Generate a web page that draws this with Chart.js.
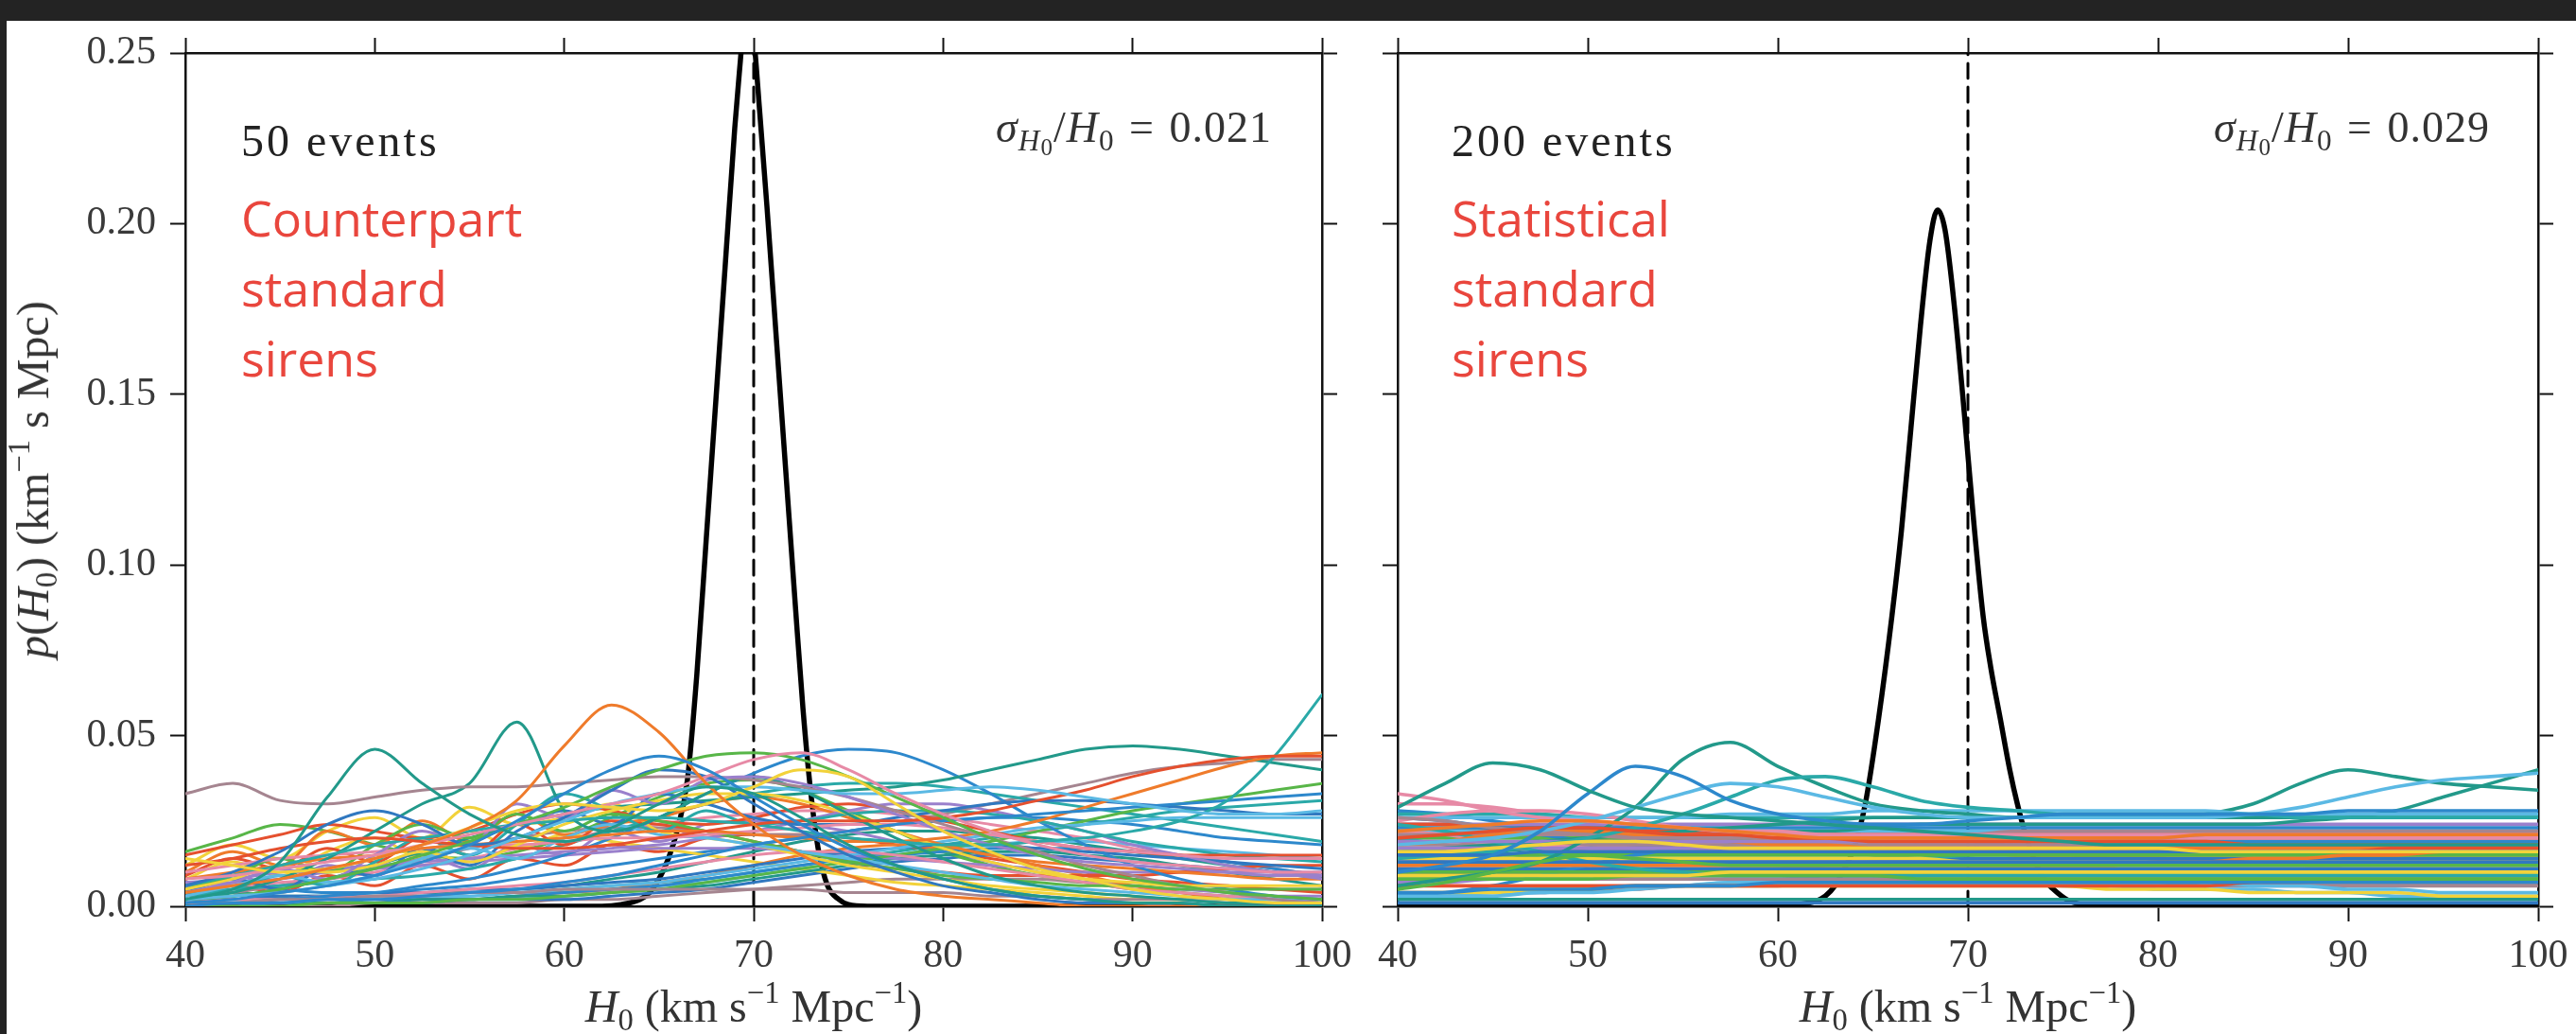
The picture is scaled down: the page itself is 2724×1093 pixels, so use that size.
<!DOCTYPE html>
<html lang="en">
<head>
<meta charset="UTF-8">
<title>H0 posteriors from standard sirens</title>
<script src="https://cdn.jsdelivr.net/npm/chart.js@4.4.1/dist/chart.umd.min.js"></script>
<style>
  body { margin: 0; width: 2724px; height: 1093px; background: #fff; position: relative; overflow: hidden; }
  canvas { position: absolute; top: 0; }
  #countChart { left: 0; }
  #statChart { left: 1440px; }
  .bar-top { position: absolute; left: 0; top: 0; width: 2724px; height: 22px; background: #232323; }
  .bar-left { position: absolute; left: 0; top: 0; width: 7px; height: 1093px; background: #232323; }
  .tx { position: absolute; white-space: nowrap; line-height: 1; color: #333; font-family: "Liberation Serif", serif; }
  .tx sub, .tx sup { line-height: 0; font-size: 68%; }
  .tx sub { vertical-align: -0.28em; }
  .tx sup { vertical-align: 0.62em; }
  .tx sub sub { font-size: 80%; vertical-align: -0.2em; }
  .axis-title { font-size: 48px; }
  .events { font-size: 48px; letter-spacing: 3px; color: #222; top: 125px; }
  .sigma { font-size: 46px; top: 112px; letter-spacing: 1px; word-spacing: 3px; }
  .red { position: absolute; font-family: "Open Sans", sans-serif; font-size: 52px; line-height: 74px; color: #e9463d; top: 193px; white-space: nowrap; }
</style>
</head>
<body>
<canvas id="countChart" width="1440" height="1093"></canvas>
<canvas id="statChart" width="1284" height="1093"></canvas>
<div class="bar-top"></div>
<div class="bar-left"></div>

<div class="tx axis-title" style="left:35px; top:507px; transform: translate(-50%, -50%) rotate(-90deg);"><i>p</i>(<i>H</i><sub>0</sub>) (km<sup>−1</sup> s Mpc)</div>
<div class="tx axis-title" style="left:797px; top:1040px; transform: translateX(-50%);"><i>H</i><sub>0</sub> (km s<sup>−1</sup> Mpc<sup>−1</sup>)</div>
<div class="tx axis-title" style="left:2081px; top:1040px; transform: translateX(-50%);"><i>H</i><sub>0</sub> (km s<sup>−1</sup> Mpc<sup>−1</sup>)</div>

<div class="tx events" style="left:255px;">50 events</div>
<div class="tx events" style="left:1535px;">200 events</div>
<div class="tx sigma" style="right:1379px;"><i>σ</i><sub><i>H</i><sub>0</sub></sub>/<i>H</i><sub>0</sub> = 0.021</div>
<div class="tx sigma" style="right:91px;"><i>σ</i><sub><i>H</i><sub>0</sub></sub>/<i>H</i><sub>0</sub> = 0.029</div>
<div class="red" style="left:255px;">Counterpart<br>standard<br>sirens</div>
<div class="red" style="left:1535px;">Statistical<br>standard<br>sirens</div>

<script>
// H0 grid (km/s/Mpc) shared by the single-event curves
const h0Grid = [40, 42.5, 45, 47.5, 50, 52.5, 55, 57.5, 60, 62.5, 65, 67.5, 70,
                72.5, 75, 77.5, 80, 82.5, 85, 87.5, 90, 92.5, 95, 97.5, 100];
const trueH0 = 70;
const xTicks = [40, 50, 60, 70, 80, 90, 100];
const yTicks = [0, 0.05, 0.10, 0.15, 0.20, 0.25];

// single-event posteriors, counterpart sirens, p(H0) in units of 1e-3
const counterpartEvents = [
  [2, 5, 13, 32, 46, 36, 27, 21, 19, 23, 30, 35, 33, 26, 18, 12, 8, 5, 3, 2, 1, 1, 0, 0, 0],
  [1, 2, 4, 6, 9, 13, 18, 25, 33, 40, 44, 40, 32, 24, 17, 12, 8, 5, 3, 2, 1, 1, 0, 0, 0],
  [4, 6, 8, 11, 14, 18, 23, 31, 47, 59, 51, 36, 24, 15, 9, 5, 3, 2, 1, 0, 0, 0, 0, 0, 0],
  [14, 12, 10, 11, 14, 18, 23, 28, 30, 29, 28, 30, 35, 40, 38, 30, 22, 16, 11, 8, 5, 3, 2, 1, 1],
  [8, 9, 11, 13, 15, 18, 21, 24, 27, 30, 33, 38, 43, 45, 40, 33, 27, 22, 18, 15, 13, 12, 11, 10, 10],
  [2, 3, 4, 6, 8, 11, 15, 20, 25, 30, 33, 35, 35, 34, 33, 33, 34, 35, 34, 32, 30, 28, 27, 27, 28],
  [2, 3, 5, 8, 11, 15, 19, 24, 29, 35, 40, 44, 45, 43, 38, 32, 26, 20, 15, 11, 8, 6, 4, 3, 2],
  [6, 10, 16, 24, 28, 24, 18, 20, 26, 34, 40, 38, 30, 22, 15, 10, 6, 4, 2, 1, 1, 0, 0, 0, 0],
  [12, 14, 17, 19, 20, 19, 18, 17, 17, 18, 20, 22, 24, 25, 25, 25, 26, 28, 31, 34, 38, 41, 43, 44, 44],
  [6, 9, 12, 15, 18, 20, 22, 24, 25, 26, 26, 25, 24, 22, 20, 19, 18, 18, 19, 20, 22, 25, 31, 44, 62],
  [4, 7, 11, 8, 15, 22, 18, 30, 26, 34, 30, 37, 38, 36, 32, 27, 22, 18, 15, 13, 12, 11, 10, 9, 9],
  [33, 36, 31, 30, 32, 34, 35, 35, 36, 37, 38, 38, 37, 35, 32, 28, 24, 20, 16, 12, 9, 6, 4, 2, 1],
  [2, 4, 8, 14, 22, 30, 36, 54, 28, 22, 26, 33, 38, 34, 27, 20, 14, 9, 6, 4, 3, 2, 1, 1, 0],
  [0, 1, 1, 2, 2, 3, 4, 5, 7, 9, 12, 15, 18, 20, 22, 24, 25, 26, 27, 28, 29, 30, 31, 32, 33],
  [8, 10, 12, 14, 15, 17, 18, 19, 20, 21, 22, 22, 21, 20, 19, 19, 20, 22, 25, 29, 33, 37, 41, 44, 45],
  [5, 8, 12, 10, 12, 16, 13, 18, 24, 28, 31, 33, 33, 31, 27, 22, 17, 13, 10, 8, 7, 6, 6, 6, 6],
  [10, 12, 14, 15, 16, 17, 18, 18, 19, 20, 20, 21, 22, 23, 24, 24, 23, 21, 19, 17, 16, 15, 14, 14, 14],
  [3, 6, 9, 7, 9, 14, 17, 14, 20, 24, 21, 20, 18, 16, 14, 12, 10, 8, 6, 5, 4, 3, 2, 2, 1],
  [5, 9, 14, 10, 18, 24, 20, 27, 22, 27, 25, 22, 19, 16, 13, 11, 9, 8, 7, 6, 6, 5, 5, 5, 5],
  [4, 8, 5, 11, 9, 17, 12, 22, 28, 24, 33, 30, 26, 24, 24, 26, 28, 30, 31, 31, 30, 29, 28, 27, 27],
  [15, 18, 21, 24, 22, 20, 22, 27, 30, 28, 25, 24, 26, 29, 30, 28, 25, 22, 19, 17, 16, 15, 15, 15, 15],
  [3, 5, 9, 6, 13, 20, 15, 24, 33, 28, 22, 28, 24, 25, 27, 28, 28, 27, 25, 22, 19, 17, 15, 14, 13],
  [7, 8, 10, 11, 12, 13, 14, 15, 16, 17, 18, 20, 22, 25, 28, 30, 30, 28, 25, 22, 18, 15, 12, 10, 8],
  [1, 1, 2, 2, 3, 3, 4, 4, 5, 5, 5, 5, 5, 5, 4, 4, 4, 3, 3, 2, 2, 2, 1, 1, 1],
  [2, 3, 5, 8, 12, 16, 20, 24, 27, 29, 30, 31, 32, 33, 34, 35, 37, 40, 43, 46, 47, 46, 44, 42, 40],
  [1, 1, 2, 3, 4, 6, 8, 11, 15, 20, 26, 33, 39, 44, 46, 45, 40, 33, 25, 18, 12, 8, 5, 3, 2],
  [10, 16, 12, 22, 18, 25, 19, 27, 21, 24, 26, 30, 32, 30, 26, 22, 18, 15, 13, 12, 11, 10, 9, 8, 8],
  [12, 18, 14, 22, 26, 20, 29, 24, 26, 30, 22, 20, 18, 15, 12, 10, 8, 6, 5, 4, 3, 2, 2, 1, 1],
  [2, 2, 2, 3, 3, 4, 5, 6, 7, 9, 11, 13, 15, 16, 16, 15, 13, 11, 9, 7, 5, 4, 3, 2, 2],
  [1, 1, 1, 2, 2, 3, 3, 4, 5, 6, 7, 9, 11, 13, 15, 17, 19, 21, 23, 24, 25, 26, 26, 26, 26],
  [0, 0, 0, 1, 1, 1, 2, 2, 3, 4, 5, 7, 9, 11, 13, 15, 17, 19, 22, 25, 28, 30, 32, 34, 36],
  [2, 2, 3, 3, 4, 4, 5, 5, 6, 7, 8, 10, 12, 14, 16, 17, 18, 18, 17, 16, 15, 14, 13, 12, 11],
  [9, 14, 11, 17, 13, 20, 15, 24, 18, 25, 24, 22, 19, 16, 13, 11, 10, 9, 9, 9, 9, 10, 11, 12, 12],
  [4, 5, 6, 7, 8, 9, 11, 14, 18, 22, 26, 30, 33, 35, 36, 36, 35, 33, 31, 29, 27, 25, 23, 21, 19],
  [6, 7, 8, 10, 11, 12, 13, 14, 15, 16, 17, 17, 17, 16, 15, 14, 13, 12, 11, 10, 10, 10, 10, 10, 10],
  [3, 4, 6, 8, 11, 14, 17, 20, 22, 23, 23, 22, 21, 21, 22, 24, 27, 30, 33, 36, 39, 41, 42, 43, 43],
  [1, 1, 1, 1, 2, 2, 2, 3, 3, 4, 5, 6, 8, 10, 12, 14, 15, 16, 16, 15, 14, 12, 10, 8, 6],
  [0, 0, 1, 1, 1, 2, 2, 3, 4, 5, 6, 8, 10, 12, 14, 15, 16, 17, 17, 17, 16, 15, 13, 11, 9],
  [1, 1, 1, 1, 1, 2, 2, 3, 4, 5, 7, 9, 12, 15, 17, 18, 17, 15, 12, 9, 6, 4, 2, 1, 1],
  [8, 13, 9, 16, 20, 14, 22, 17, 21, 19, 17, 15, 13, 11, 9, 7, 6, 5, 4, 3, 2, 2, 1, 1, 1],
  [6, 6, 7, 8, 10, 12, 14, 17, 20, 22, 24, 26, 27, 28, 28, 27, 26, 24, 22, 20, 17, 15, 13, 11, 9],
  [2, 2, 2, 2, 3, 3, 3, 4, 4, 5, 6, 7, 9, 11, 13, 15, 17, 18, 19, 19, 18, 17, 16, 15, 14],
  [16, 20, 24, 22, 18, 15, 14, 16, 20, 26, 32, 36, 37, 34, 28, 22, 16, 12, 9, 7, 5, 4, 3, 2, 2],
  [1, 1, 1, 1, 1, 1, 2, 2, 2, 3, 4, 5, 7, 9, 11, 13, 14, 15, 15, 14, 13, 12, 11, 10, 9],
  [3, 6, 4, 9, 6, 12, 8, 14, 12, 18, 16, 20, 21, 21, 20, 18, 16, 14, 12, 10, 8, 7, 6, 5, 4],
  [2, 2, 2, 3, 3, 3, 4, 4, 5, 6, 7, 8, 10, 12, 14, 16, 18, 20, 22, 24, 26, 28, 29, 30, 31],
  [5, 9, 6, 12, 9, 15, 11, 18, 15, 22, 19, 24, 25, 24, 22, 19, 16, 13, 10, 8, 6, 5, 4, 3, 3],
  [0, 0, 0, 0, 1, 1, 1, 1, 2, 2, 3, 4, 5, 6, 7, 8, 8, 8, 8, 7, 7, 6, 6, 5, 5],
  [4, 4, 3, 3, 3, 4, 4, 5, 6, 8, 10, 13, 16, 19, 21, 22, 22, 21, 20, 18, 16, 14, 12, 10, 8],
  [7, 6, 5, 4, 4, 5, 6, 8, 10, 12, 14, 16, 18, 20, 22, 24, 25, 26, 26, 25, 24, 22, 20, 19, 18]
];

// single-event posteriors, statistical sirens, p(H0) in units of 1e-3
const statisticalEvents = [
  [29, 36, 42, 40, 34, 29, 27, 26, 25, 24, 23, 22, 21, 20, 19, 18, 18, 18, 18, 18, 18, 18, 18, 18, 18],
  [10, 12, 15, 22, 33, 41, 38, 31, 27, 25, 24, 24, 25, 26, 27, 27, 27, 27, 27, 27, 28, 28, 28, 28, 28],
  [22, 23, 24, 25, 25, 24, 23, 22, 21, 20, 20, 20, 20, 20, 20, 20, 20, 21, 21, 21, 21, 21, 21, 21, 21],
  [16, 16, 17, 18, 19, 19, 18, 17, 17, 17, 17, 17, 17, 17, 17, 17, 17, 16, 16, 16, 16, 16, 16, 16, 16],
  [33, 31, 28, 26, 25, 24, 23, 22, 22, 21, 21, 21, 21, 21, 21, 21, 21, 21, 21, 21, 21, 21, 21, 21, 21],
  [18, 19, 20, 22, 25, 29, 33, 36, 35, 32, 29, 27, 26, 26, 26, 26, 26, 26, 27, 29, 32, 35, 37, 38, 39],
  [5, 7, 10, 13, 15, 14, 13, 12, 12, 12, 12, 12, 12, 12, 12, 12, 12, 12, 12, 12, 12, 12, 12, 12, 12],
  [15, 15, 15, 16, 16, 16, 16, 16, 16, 16, 16, 16, 16, 16, 16, 16, 16, 16, 16, 16, 16, 16, 16, 16, 16],
  [20, 21, 22, 23, 23, 22, 21, 21, 20, 20, 19, 19, 19, 19, 19, 19, 19, 19, 18, 18, 18, 18, 18, 18, 18],
  [14, 15, 16, 18, 20, 23, 27, 32, 37, 38, 35, 31, 29, 28, 27, 27, 27, 27, 27, 26, 26, 26, 26, 26, 26],
  [19, 19, 19, 19, 19, 19, 19, 19, 19, 19, 19, 19, 19, 19, 20, 20, 20, 21, 21, 21, 21, 21, 21, 21, 21],
  [26, 25, 23, 22, 21, 20, 20, 20, 20, 20, 21, 21, 21, 22, 22, 22, 22, 22, 22, 22, 22, 22, 22, 22, 22],
  [6, 8, 10, 13, 20, 29, 43, 48, 41, 35, 30, 28, 27, 26, 26, 26, 26, 26, 26, 26, 26, 26, 26, 26, 26],
  [4, 4, 5, 5, 5, 6, 6, 6, 7, 7, 7, 7, 7, 7, 7, 7, 7, 7, 7, 7, 7, 7, 7, 7, 7],
  [18, 19, 21, 22, 22, 21, 20, 19, 18, 18, 17, 17, 17, 17, 17, 17, 17, 17, 17, 17, 17, 18, 18, 18, 18],
  [9, 9, 9, 9, 9, 9, 9, 10, 10, 10, 10, 10, 10, 10, 10, 10, 10, 10, 10, 10, 10, 10, 10, 10, 10],
  [25, 27, 28, 28, 27, 25, 23, 22, 21, 21, 20, 20, 20, 20, 20, 20, 20, 20, 20, 20, 20, 20, 20, 20, 20],
  [26, 26, 26, 26, 26, 26, 26, 27, 27, 27, 28, 28, 28, 28, 28, 28, 28, 28, 27, 27, 27, 27, 27, 27, 27],
  [8, 8, 8, 8, 8, 9, 9, 9, 9, 9, 9, 8, 8, 8, 8, 8, 8, 8, 8, 8, 8, 8, 8, 8, 8],
  [13, 13, 13, 13, 13, 13, 13, 13, 13, 13, 13, 13, 13, 13, 13, 13, 13, 13, 13, 13, 13, 13, 13, 13, 13],
  [6, 6, 6, 6, 6, 6, 6, 6, 6, 6, 6, 6, 6, 6, 6, 6, 6, 6, 7, 7, 7, 7, 7, 7, 7],
  [24, 22, 19, 16, 13, 11, 10, 9, 9, 9, 9, 9, 10, 10, 10, 10, 10, 10, 10, 10, 10, 10, 10, 10, 10],
  [17, 17, 17, 17, 17, 17, 17, 17, 17, 17, 17, 17, 17, 17, 17, 17, 18, 18, 18, 18, 18, 18, 18, 18, 18],
  [21, 21, 21, 21, 21, 21, 21, 21, 21, 21, 21, 21, 20, 20, 20, 20, 20, 20, 20, 20, 20, 20, 20, 20, 20],
  [16, 17, 18, 19, 20, 21, 22, 23, 24, 25, 26, 26, 26, 26, 26, 26, 26, 27, 30, 36, 40, 38, 36, 35, 34],
  [23, 23, 23, 23, 23, 23, 23, 23, 23, 23, 23, 23, 23, 23, 23, 23, 23, 23, 23, 23, 23, 23, 23, 23, 23],
  [12, 12, 12, 12, 12, 12, 12, 12, 12, 12, 12, 12, 12, 12, 12, 12, 13, 13, 14, 14, 15, 15, 16, 16, 16],
  [14, 14, 14, 14, 14, 14, 14, 14, 14, 14, 14, 14, 13, 13, 13, 13, 13, 13, 13, 13, 13, 13, 13, 13, 13],
  [22, 21, 19, 18, 17, 16, 16, 16, 16, 16, 16, 16, 16, 16, 16, 16, 16, 16, 16, 16, 16, 16, 16, 16, 16],
  [3, 3, 3, 4, 4, 5, 6, 7, 7, 7, 7, 7, 7, 7, 7, 7, 7, 7, 6, 6, 5, 5, 4, 4, 4],
  [10, 10, 10, 10, 10, 10, 10, 10, 10, 10, 10, 10, 10, 10, 10, 10, 10, 10, 10, 10, 10, 10, 10, 10, 10],
  [1, 1, 1, 1, 1, 1, 1, 1, 1, 1, 1, 1, 1, 1, 1, 1, 1, 1, 1, 1, 1, 1, 1, 1, 1],
  [24, 24, 23, 23, 22, 22, 22, 21, 21, 21, 21, 21, 21, 21, 21, 21, 21, 21, 21, 21, 21, 21, 21, 21, 21],
  [9, 9, 9, 9, 9, 9, 9, 9, 9, 9, 9, 9, 9, 9, 9, 9, 9, 9, 9, 9, 9, 9, 9, 9, 9],
  [12, 12, 12, 12, 12, 12, 12, 12, 12, 12, 12, 12, 12, 12, 12, 12, 12, 12, 12, 12, 12, 12, 12, 12, 12],
  [18, 18, 18, 18, 18, 18, 18, 18, 18, 18, 18, 18, 18, 18, 18, 18, 18, 18, 18, 18, 18, 18, 18, 18, 18],
  [14, 15, 16, 17, 18, 19, 20, 21, 22, 22, 23, 24, 24, 24, 24, 24, 24, 24, 24, 25, 26, 28, 32, 36, 40],
  [3, 4, 6, 9, 12, 15, 17, 18, 19, 19, 19, 19, 19, 19, 19, 19, 19, 19, 19, 19, 19, 19, 19, 19, 19],
  [21, 21, 21, 21, 21, 21, 21, 21, 21, 21, 21, 21, 21, 21, 21, 21, 21, 21, 21, 21, 21, 21, 21, 21, 21],
  [4, 4, 4, 5, 5, 6, 6, 6, 6, 6, 6, 6, 6, 6, 6, 5, 5, 5, 4, 4, 4, 4, 3, 3, 3],
  [13, 13, 13, 13, 13, 13, 13, 13, 13, 13, 13, 13, 13, 13, 13, 13, 13, 13, 13, 13, 13, 13, 13, 13, 13],
  [22, 22, 22, 22, 22, 22, 22, 22, 22, 22, 22, 22, 22, 22, 22, 22, 22, 22, 22, 22, 22, 22, 22, 22, 22],
  [15, 15, 15, 15, 15, 15, 15, 15, 15, 15, 15, 15, 15, 15, 15, 15, 15, 15, 15, 15, 15, 15, 15, 15, 15],
  [11, 11, 11, 11, 11, 11, 11, 11, 11, 11, 11, 11, 11, 11, 11, 11, 11, 11, 11, 11, 11, 11, 11, 11, 11],
  [17, 17, 17, 17, 17, 17, 17, 17, 17, 17, 17, 17, 17, 17, 17, 17, 17, 17, 17, 17, 17, 17, 17, 17, 17],
  [20, 18, 16, 14, 12, 11, 10, 10, 11, 12, 13, 14, 15, 16, 17, 18, 19, 19, 19, 19, 19, 19, 19, 19, 19],
  [24, 24, 24, 24, 24, 24, 24, 24, 24, 24, 24, 24, 24, 24, 24, 24, 24, 24, 24, 24, 24, 24, 24, 24, 24],
  [8, 8, 8, 8, 8, 8, 8, 8, 8, 8, 8, 8, 8, 8, 8, 8, 8, 8, 8, 8, 8, 8, 8, 8, 8],
  [2, 2, 2, 2, 2, 2, 2, 2, 2, 2, 2, 2, 2, 2, 2, 2, 2, 2, 2, 2, 2, 2, 2, 2, 2],
  [26, 25, 23, 21, 19, 18, 17, 17, 17, 17, 17, 17, 17, 17, 17, 17, 17, 17, 17, 17, 17, 17, 17, 17, 17],
  [15, 17, 20, 22, 23, 23, 22, 21, 19, 18, 17, 16, 16, 15, 15, 15, 15, 15, 15, 15, 15, 15, 15, 15, 15],
  [11, 11, 12, 12, 12, 12, 12, 12, 12, 12, 12, 12, 12, 12, 12, 12, 12, 12, 12, 12, 11, 11, 11, 11, 11],
  [19, 19, 19, 18, 18, 18, 18, 18, 18, 18, 18, 18, 18, 18, 18, 18, 18, 18, 18, 18, 18, 18, 18, 18, 18],
  [3, 3, 4, 4, 5, 6, 6, 7, 7, 7, 7, 7, 7, 7, 6, 6, 5, 5, 5, 4, 4, 3, 3, 3, 3],
  [20, 20, 20, 20, 20, 20, 20, 20, 20, 20, 20, 20, 20, 20, 20, 20, 20, 20, 20, 20, 20, 20, 20, 20, 20],
  [14, 14, 14, 14, 14, 14, 14, 14, 14, 14, 14, 14, 14, 14, 14, 14, 14, 14, 14, 14, 14, 14, 14, 14, 14],
  [10, 10, 10, 10, 10, 10, 10, 10, 10, 10, 10, 10, 9, 9, 9, 9, 9, 9, 9, 9, 9, 9, 9, 9, 9],
  [27, 27, 27, 27, 26, 26, 26, 26, 26, 26, 26, 26, 26, 26, 26, 26, 26, 26, 26, 26, 26, 26, 26, 26, 26],
  [7, 7, 8, 8, 9, 9, 9, 9, 9, 8, 8, 8, 8, 8, 8, 8, 8, 8, 8, 8, 8, 8, 8, 8, 8],
  [4, 4, 4, 4, 5, 5, 6, 6, 6, 7, 7, 7, 7, 7, 7, 7, 7, 6, 6, 6, 6, 6, 6, 6, 6],
  [12, 14, 17, 20, 22, 23, 22, 20, 18, 16, 15, 14, 14, 14, 14, 15, 15, 16, 16, 16, 16, 16, 16, 16, 16],
  [28, 27, 25, 23, 21, 19, 18, 18, 18, 19, 20, 21, 22, 22, 22, 22, 21, 21, 21, 21, 21, 21, 21, 21, 21],
  [20, 22, 23, 22, 20, 18, 17, 17, 17, 17, 17, 18, 18, 19, 19, 19, 19, 19, 19, 19, 19, 19, 19, 19, 19],
  [8, 9, 11, 13, 14, 14, 14, 14, 14, 14, 14, 14, 14, 14, 14, 14, 14, 14, 14, 14, 14, 14, 14, 14, 14],
  [30, 30, 29, 27, 25, 23, 21, 20, 19, 19, 19, 19, 19, 19, 19, 19, 19, 19, 19, 19, 19, 19, 19, 19, 19],
  [10, 11, 13, 15, 17, 18, 19, 20, 20, 20, 21, 21, 21, 21, 21, 21, 21, 21, 22, 22, 22, 22, 22, 22, 22]
];

// combined posteriors
const countCombinedH0 = [40, 62, 63, 64, 64.5, 65, 65.5, 66, 66.5, 67, 67.5, 68, 68.5, 69, 69.3, 69.65,
                         70, 70.3, 70.7, 71.2, 71.7, 72.2, 72.6, 73, 73.4, 73.9, 74.5, 75, 76, 100];
const countCombinedP = [0, 0, 0.0005, 0.002, 0.004, 0.008, 0.014, 0.023, 0.037, 0.068, 0.108, 0.148, 0.188, 0.228, 0.248, 0.27,
                        0.255, 0.234, 0.205, 0.166, 0.127, 0.088, 0.058, 0.034, 0.017, 0.006, 0.002, 0.0005, 0, 0];
const statCombinedH0 = [40, 60, 61, 62, 62.5, 63, 63.5, 64, 64.6, 65.3, 66, 66.5, 67, 67.5, 68, 68.4,
                        68.8, 69.3, 69.8, 70.3, 70.8, 71.2, 71.7, 72.2, 72.6, 73.2, 74, 74.5, 75.2, 76, 77, 100];
const statCombinedP = [0, 0, 0.0005, 0.0015, 0.003, 0.006, 0.011, 0.017, 0.03, 0.055, 0.085, 0.11, 0.14, 0.17, 0.195, 0.204,
                       0.198, 0.175, 0.145, 0.113, 0.085, 0.07, 0.055, 0.04, 0.03, 0.018, 0.008, 0.005, 0.002, 0.0005, 0, 0];

const palette = ['#22998a', '#2d88cc', '#ef7b2b', '#f2d23a', '#e78aa6', '#5bb9e4',
                 '#58b648', '#3078c0', '#e5502e', '#2aa9a8', '#9a80cc', '#a58590'];

Chart.defaults.font.family = '"Liberation Serif", serif';

function eventDatasets(rows, width) {
  return rows.map((row, i) => ({
    data: row.map((v, k) => ({ x: h0Grid[k], y: v / 1000 })),
    borderColor: palette[i % palette.length],
    borderWidth: width,
    order: 1
  }));
}

function tickScale(position, min, max, step, showLabels, size) {
  const horizontal = position === 'top' || position === 'bottom';
  return {
    type: 'linear',
    axis: horizontal ? 'x' : 'y',
    position: position,
    min: min,
    max: max,
    ticks: {
      display: showLabels,
      stepSize: step,
      autoSkip: false,
      maxRotation: 0,
      padding: horizontal ? 12 : 15,
      color: '#3a3a3a',
      font: { size: 42 },
      callback: horizontal ? (v) => String(v) : (v) => v.toFixed(2)
    },
    afterBuildTicks: (scale) => {
      scale.ticks = (horizontal ? xTicks : yTicks).map((v) => ({ value: v }));
    },
    grid: { drawOnChartArea: false, drawTicks: true, tickLength: 16, tickWidth: 2, tickColor: '#111' },
    border: { display: true, color: '#111', width: 2.5 },
    afterFit: (scale) => {
      if (horizontal) {
        scale.height = size;
        scale.paddingLeft = 0;
        scale.paddingRight = 0;
      } else {
        scale.width = size;
        scale.paddingTop = 0;
        scale.paddingBottom = 0;
      }
    }
  };
}

function buildPanel(canvasId, rows, lineWidth, combH0, combP, yAxisWidth, padRight, yLabels) {
  const datasets = eventDatasets(rows, lineWidth);
  datasets.push({
    data: combH0.map((x, k) => ({ x: x, y: combP[k] })),
    borderColor: '#000',
    borderWidth: 5.5,
    clip: 0,
    order: 2
  });
  datasets.push({
    data: [{ x: trueH0, y: 0 }, { x: trueH0, y: 0.25 }],
    borderColor: '#000',
    borderWidth: 3,
    borderDash: [16, 9],
    order: 3
  });

  return new Chart(document.getElementById(canvasId), {
    type: 'line',
    data: { datasets: datasets },
    options: {
      responsive: false,
      animation: false,
      devicePixelRatio: 1,
      layout: { padding: { top: 40, right: padRight, bottom: 0, left: 0 } },
      elements: {
        point: { radius: 0 },
        line: { cubicInterpolationMode: 'monotone', borderJoinStyle: 'round', borderCapStyle: 'round' }
      },
      plugins: { legend: { display: false }, tooltip: { enabled: false } },
      scales: {
        x: tickScale('bottom', 40, 100, 10, true, 135),
        xTop: tickScale('top', 40, 100, 10, false, 16),
        y: tickScale('left', 0, 0.25, 0.05, yLabels, yAxisWidth),
        yRight: tickScale('right', 0, 0.25, 0.05, false, 16)
      }
    }
  });
}

buildPanel('countChart', counterpartEvents, 3, countCombinedH0, countCombinedP, 196, 26, true);
buildPanel('statChart', statisticalEvents, 3.6, statCombinedH0, statCombinedP, 38, 24, false);
</script>
</body>
</html>
